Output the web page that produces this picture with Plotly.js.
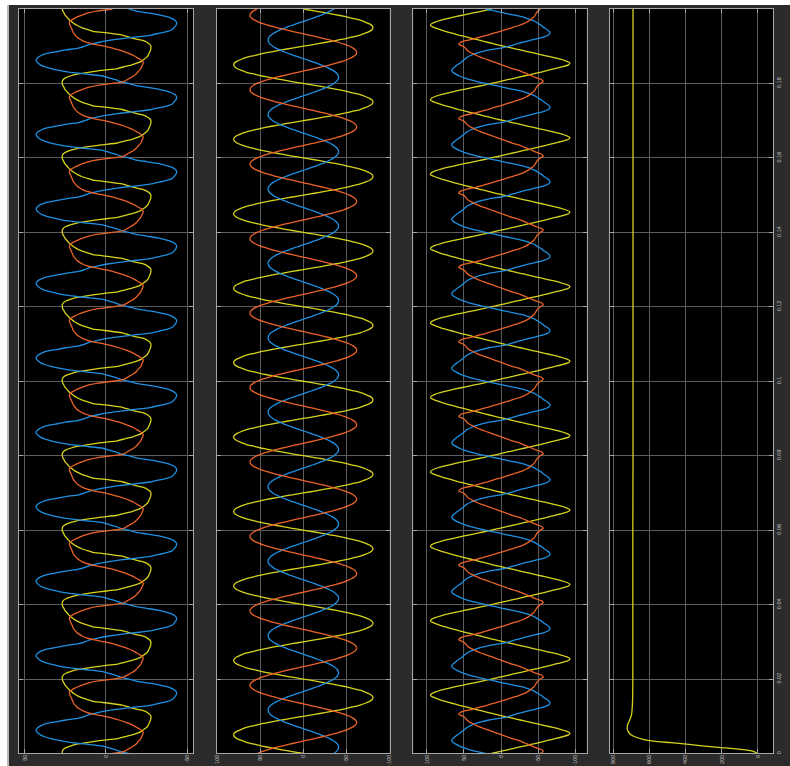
<!DOCTYPE html>
<html><head><meta charset="utf-8">
<script src="https://cdn.plot.ly/plotly-3.0.1.min.js"></script>
<style>
html,body{margin:0;padding:0;background:#ffffff;width:790px;height:766px;overflow:hidden;}
#edge{position:absolute;left:7px;top:5px;width:2px;height:761px;background:#b9b9b9;}
#chart{position:absolute;left:9px;top:5px;width:781px;height:761px;}
</style></head>
<body><div id="edge"></div><div id="chart"></div>
<script>
// ---- data (one measured 20 ms period of each steady-state waveform, repeated) ----
const PERIOD_S = 0.02;
const PERIODS = 10;
const periodTimeMs = [0,0.5,1,1.5,2,2.5,3,3.5,4,4.5,5,5.5,6,6.5,7,7.5,8,8.5,9,9.5,
                      10,10.5,11,11.5,12,12.5,13,13.5,14,14.5,15,15.5,16,16.5,17,17.5,18,18.5,19,19.5];

// Panel 1 (distorted currents)
const p1Yellow = [27,27,26.5,25,22,18,11,3,-7,-11.5,-16,-19.5,-22,-23.5,-25,-26,-26.5,-27,-27.5,-27.7,
                  -27.7,-27,-25.5,-23,-18,-14,-10,-2,8,11.5,15,17.5,19.5,21,22.5,23.5,24.5,25.5,26,26.7];
const p1Blue   = [-14,-9,-6,-2,2,12,22,29,34,38,40.5,42,43,43,42,40,37,31,25,17,
                  13,10,5,-1,-9,-19,-28,-33,-38,-41,-42,-43,-43.5,-43.5,-42.5,-40.5,-37,-32,-25,-18];
const p1Orange = [-4,-11,-13,-15,-17,-18.5,-19.5,-20.5,-21.5,-22,-22.5,-23,-22.5,-21,-19,-17,-14.5,-11.5,-8,-4,
                  1,7,11.5,14.5,16.5,18,19,20,20.5,21,21.5,22,22.5,22.5,21.5,19.5,17,14,10.5,5];

// Panel 2 (sinusoidal voltages)
const p2Yellow = [0,13,25,37,48,57,66,72,77,80,81,80,77,72,66,57,48,37,25,13,
                  0,-13,-25,-37,-48,-57,-66,-72,-77,-80,-81,-80,-77,-72,-66,-57,-48,-37,-25,-13];
const p2Blue   = [-35.5,-38.3,-40.1,-40.9,-40.8,-39.6,-37.5,-34.4,-30.5,-25.8,-20.5,-14.7,-8.5,-2.1,4.3,10.6,16.7,22.3,27.4,31.9,
                  35.5,38.3,40.1,40.9,40.8,39.6,37.5,34.4,30.5,25.8,20.5,14.7,8.5,2.1,-4.3,-10.6,-16.7,-22.3,-27.4,-31.9];
const p2Orange = [53.7,48.2,41.5,33.8,25.2,16,6.5,-3.2,-12.9,-22.2,-31,-39,-46.1,-52,-56.6,-59.9,-61.7,-61.9,-60.6,-57.9,
                  -53.7,-48.2,-41.5,-33.8,-25.2,-16,-6.5,3.2,12.9,22.2,31,39,46.1,52,56.6,59.9,61.7,61.9,60.6,57.9];

// Panel 3
const p3Yellow = [13,2,-9,-20,-31,-42,-53,-63,-73,-83,-91,-93,-88,-80,-70,-59,-48,-37,-26,-15,
                  -4,7,17,27,37,47,57,66,75,83,90,95,94,89,81,71,60,48,36,24];
const p3Blue   = [21,32,42,50,56,61,65,66.5,65,62,59,55,52,49,46,41,35,27,16,0,
                  -11,-19,-28,-38,-48,-58,-64,-66,-65,-62,-58,-55,-51,-47,-42,-35,-26,-14,-2,9];
const p3Orange = [-53,-57,-55,-48,-42,-36,-30,-24,-15,-8,-1,6,13,20,27,33,38,43,46,48,
                  51,57,55,48,36,27,18,10,1,-7,-15,-23,-30,-35,-39,-42,-45,-46.5,-48,-50];

// Panel 4 (DC link voltage)
const p4Time  = [0,0.0007,0.0012,0.0016,0.002,0.0025,0.0029,0.0033,0.0038,0.0045,0.0052,0.006,0.0068,0.0078,0.009,0.0105,0.0125,0.015,0.02,
                 0.04,0.06,0.08,0.1,0.12,0.14,0.16,0.18,0.2];
const p4Value = [0,35,110,205,295,395,480,575,635,680,705,718,722,719,708,698,694,692,691,
                 691,691,690,690,690,690,690,690,690];

// axis tick labels
const valTicks12 = [50,0,-50];
const valTicks23 = [100,50,0,-50,-100];
const valTicks4  = [800,600,400,200,0];
const timeTicks  = [0,0.02,0.04,0.06,0.08,0.1,0.12,0.14,0.16,0.18,0.2];
const timeLabels = ['0','0.02','0.04','0.06','0.08','0.1','0.12','0.14','0.16','0.18','0.2'];

// ---- build ----
const YEL='#d6d21e', BLU='#1f8fe0', ORA='#e8632a';
function tile(vals){
  const xs=[], ys=[];
  for(let k=0;k<PERIODS;k++){
    for(let i=0;i<periodTimeMs.length;i++){ xs.push(vals[i]); ys.push(k*PERIOD_S + periodTimeMs[i]/1000); }
  }
  xs.push(vals[0]); ys.push(PERIODS*PERIOD_S);
  return {xs, ys};
}
function tr(vals, color, ax){
  const d = tile(vals);
  return {x:d.xs, y:d.ys, xaxis:'x'+ax, yaxis:'y'+ax, type:'scatter', mode:'lines',
          line:{color:color, width:1.3, shape:'spline', smoothing:0.4}, hoverinfo:'skip', showlegend:false};
}
const data = [
  tr(p1Yellow,YEL,''), tr(p1Blue,BLU,''), tr(p1Orange,ORA,''),
  tr(p2Yellow,YEL,'2'), tr(p2Blue,BLU,'2'), tr(p2Orange,ORA,'2'),
  tr(p3Yellow,YEL,'3'), tr(p3Blue,BLU,'3'), tr(p3Orange,ORA,'3'),
  {x:p4Value, y:p4Time, xaxis:'x4', yaxis:'y4', type:'scatter', mode:'lines',
   line:{color:YEL, width:1.3, shape:'spline', smoothing:0.6}, hoverinfo:'skip', showlegend:false}
];
for(let i=0;i<3;i++){ data[i].xaxis='x'; data[i].yaxis='y'; }

const font = {family:'Liberation Sans Narrow, Liberation Sans, Arial, sans-serif', size:5.5, color:'#c4c4c4'};
const common = {gridcolor:'#5c5c5c', gridwidth:1, showline:true, linecolor:'#a6a6a6', linewidth:1,
  mirror:'ticks', ticks:'inside', ticklen:4, tickcolor:'#a6a6a6', zeroline:false, tickfont:font,
  fixedrange:true, automargin:false};
const YD = [0.016426, 0.994744];
function xa(dom, range, ticks, anchor){
  return Object.assign({}, common, {domain:dom, range:range, tickmode:'array', tickvals:ticks,
    ticktext:ticks.map(v=>String(v)), tickangle:-90, anchor:anchor, ticklabelstandoff:-2});
}
function ya(anchor, labels){
  return Object.assign({}, common, {domain:YD, range:[0,0.2], tickmode:'array', tickvals:timeTicks,
    ticktext:timeLabels, showticklabels:labels, side:'right', tickangle:-90, anchor:anchor});
}
const layout = {
  width:781, height:761, margin:{l:0,r:0,t:0,b:0},
  paper_bgcolor:'#2b2b2b', plot_bgcolor:'#000000', showlegend:false,
  xaxis:  xa([0.012804,0.235595],[53.7,-53.7], valTicks12, 'y'),
  yaxis:  ya('x', false),
  xaxis2: xa([0.26594,0.48720],[100.7,-100.2], valTicks23, 'y2'),
  yaxis2: ya('x2', false),
  xaxis3: xa([0.51767,0.73969],[118.3,-115.6], valTicks23, 'y3'),
  yaxis3: ya('x3', false),
  xaxis4: xa([0.76953,0.97823],[817,-83], valTicks4, 'y4'),
  yaxis4: ya('x4', true)
};
Plotly.newPlot('chart', data, layout, {staticPlot:true, displayModeBar:false});
</script>
</body></html>
